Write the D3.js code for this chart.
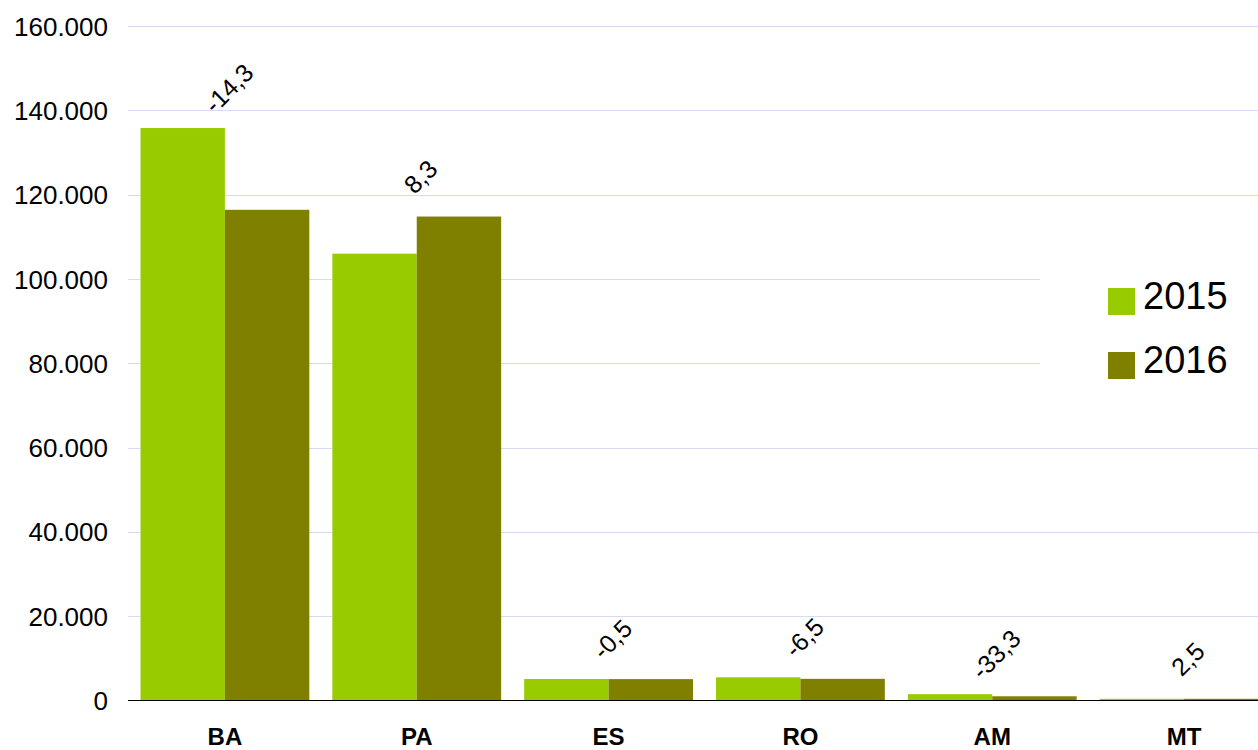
<!DOCTYPE html>
<html>
<head>
<meta charset="utf-8">
<script src="https://cdn.jsdelivr.net/npm/d3@7"></script>
<style>
  html, body { margin: 0; padding: 0; background: #fff; }
  svg { display: block; font-family: "Liberation Sans", Arial, sans-serif; }
</style>
</head>
<body>
<svg id="chart" width="1258" height="750"></svg>
<script>
// ---- data ----
const categories = ["BA", "PA", "ES", "RO", "AM", "MT"];
const seriesNames = ["2015", "2016"];
const values2015 = [135800, 106000, 5100, 5500, 1500, 400];
const values2016 = [116400, 114800, 5075, 5140, 1000, 410];
const changeLabels = ["-14,3", "8,3", "-0,5", "-6,5", "-33,3", "2,5"];
const yTicks = [0, 20000, 40000, 60000, 80000, 100000, 120000, 140000, 160000];
const colors = ["#99cc00", "#808000"];

// ---- layout ----
const plotLeft = 128, plotRight = 1258;
const svg = d3.select("#chart");

const loc = d3.formatLocale({decimal: ",", thousands: ".", grouping: [3], currency: ["", ""]});
const fmt = loc.format(",.0f");

const y = d3.scaleLinear().domain([0, 160000]).range([700.5, 26]);
const x = d3.scaleBand().domain(categories).range([129, 1280]).paddingInner(0.12).paddingOuter(0.06);
const x1 = d3.scaleBand().domain(seriesNames).range([0, x.bandwidth()]);

const data = categories.map((c, i) => ({cat: c, vals: [values2015[i], values2016[i]], label: changeLabels[i]}));

// gridlines
svg.append("g").selectAll("line").data(yTicks.filter(t => t > 0)).join("line")
  .attr("x1", plotLeft).attr("x2", plotRight)
  .attr("y1", d => Math.round(y(d)) + 0.5).attr("y2", d => Math.round(y(d)) + 0.5)
  .attr("stroke", "#d9d9f5").attr("stroke-width", 1);

// y tick labels
const yAxis = d3.axisLeft(y).tickValues(yTicks).tickSize(0).tickPadding(0).tickFormat(fmt);
const gy = svg.append("g").attr("transform", "translate(108,0)").call(yAxis);
gy.select(".domain").remove();
gy.selectAll("text").attr("font-size", 26).attr("fill", "#000")
  .attr("font-family", "'Liberation Sans', Arial, sans-serif").attr("dy", "0.35em");

// bars
const groups = svg.append("g").selectAll("g").data(data).join("g")
  .attr("transform", d => `translate(${x(d.cat)},0)`);
groups.selectAll("rect").data(d => d.vals.map((v, j) => ({v, s: seriesNames[j], j}))).join("rect")
  .attr("x", d => x1(d.s))
  .attr("width", x1.bandwidth())
  .attr("y", d => y(d.v))
  .attr("height", d => y(0) - y(d.v))
  .attr("fill", d => colors[d.j]);

// axis line
svg.append("line").attr("x1", plotLeft).attr("x2", plotRight)
  .attr("y1", 700.5).attr("y2", 700.5).attr("stroke", "#000").attr("stroke-width", 1.2);

// change labels (rotated, centred above the taller bar)
svg.append("g").selectAll("text").data(data).join("text")
  .attr("transform", d => {
    const cx = x(d.cat) + x.bandwidth() / 2 + 10;
    const cy = y(Math.max(...d.vals) + 2500) - 23;
    return `translate(${cx},${cy}) rotate(-45)`;
  })
  .attr("text-anchor", "middle")
  .attr("font-size", 25).attr("fill", "#000")
  .text(d => d.label);

// x labels
const xAxis = d3.axisBottom(x).tickSize(0).tickPadding(0);
const gx = svg.append("g").attr("transform", "translate(0,700)").call(xAxis);
gx.select(".domain").remove();
gx.selectAll("text").attr("font-size", 24).attr("font-weight", "bold").attr("fill", "#000")
  .attr("font-family", "'Liberation Sans', Arial, sans-serif")
  .attr("dy", null).attr("y", 45);

// legend
const lg = svg.append("g");
lg.append("rect").attr("x", 1040).attr("y", 258).attr("width", 218).attr("height", 132).attr("fill", "#fff");
const items = lg.selectAll("g").data(seriesNames).join("g")
  .attr("transform", (d, i) => `translate(1108,${288 + i * 64})`);
items.append("rect").attr("width", 27).attr("height", 27).attr("fill", (d, i) => colors[i]);
items.append("text").attr("x", 35).attr("y", 21).attr("font-size", 38).attr("fill", "#000").text(d => d);
</script>
</body>
</html>
